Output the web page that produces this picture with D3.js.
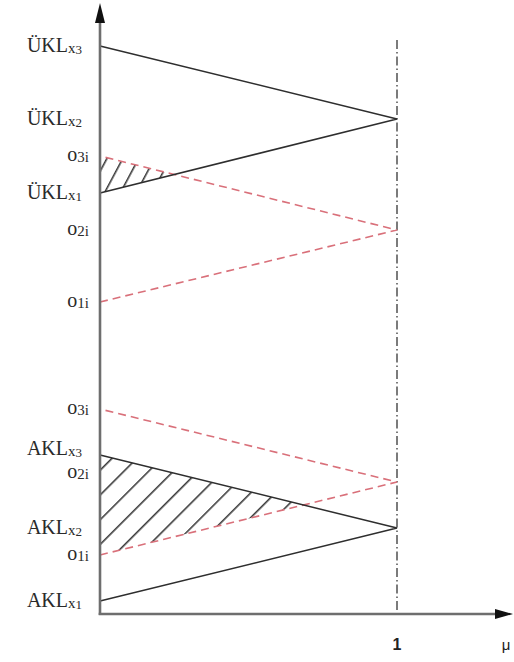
<!DOCTYPE html>
<html>
<head>
<meta charset="utf-8">
<script src="https://cdn.jsdelivr.net/npm/d3@7"></script>
<style>
  html, body { margin: 0; padding: 0; background: #fff; }
  svg { display: block; }
</style>
</head>
<body>
<svg id="chart" width="514" height="662"></svg>
<script>
// Triangular fuzzy numbers (x1, x2, x3) placed on the vertical value axis;
// x1 and x3 sit at membership 0, x2 at membership 1.
const uklValues   = [421, 495, 568];   // ÜKL
const oUpper      = [312, 384, 458];   // o_i compared with ÜKL
const aklValues   = [13, 86, 159];     // AKL
const oLower      = [59, 132, 205];    // o_i compared with AKL

const uklNames = ["ÜKL", "ÜKL", "ÜKL"];
const aklNames = ["AKL", "AKL", "AKL"];
const subIndex = ["1", "2", "3"];

const muTicks = [1];
const muLabel = "μ";

const svg = d3.select("#chart");

const x = d3.scaleLinear().domain([0, 1]).range([100, 397]);
const y = d3.scaleLinear().domain([0, 600]).range([614, 14]);

const axisColor = "#6e6e6e";
const lineColor = "#2e2e2e";
const redColor = "#d9707a";

// triangle as polyline: (0,x1) -> (1,x2) -> (0,x3)
const tri = v => [[0, v[0]], [1, v[1]], [0, v[2]]];
const line = d3.line().x(d => x(d[0])).y(d => y(d[1]));

// intersection of segment from (0,a0)-(1,a1) with (0,b0)-(1,b1)
function cross(a0, a1, b0, b1) {
  const t = (b0 - a0) / ((a1 - a0) - (b1 - b0));
  return [t, a0 + (a1 - a0) * t];
}

const defs = svg.append("defs");
function hatch(id, angle, gap) {
  const p = defs.append("pattern")
    .attr("id", id)
    .attr("patternUnits", "userSpaceOnUse")
    .attr("width", gap).attr("height", gap)
    .attr("patternTransform", `rotate(${angle})`);
  p.append("line")
    .attr("x1", 0.8).attr("y1", 0).attr("x2", 0.8).attr("y2", gap)
    .attr("stroke", lineColor).attr("stroke-width", 1.5);
}
hatch("hatchTop", 28, 14);
hatch("hatchBottom", 45, 17.5);

// hatched overlap: between o3 (upper) line and ÜKL x1 line
const topX = cross(oUpper[2], oUpper[1], uklValues[0], uklValues[1]);
svg.append("path")
  .attr("d", line([[0, oUpper[2]], topX, [0, uklValues[0]]]) + "Z")
  .attr("fill", "url(#hatchTop)");

// hatched overlap: between AKL x3 line and o1 (lower) line
const botX = cross(aklValues[2], aklValues[1], oLower[0], oLower[1]);
svg.append("path")
  .attr("d", line([[0, aklValues[2]], botX, [0, oLower[0]]]) + "Z")
  .attr("fill", "url(#hatchBottom)");

// membership = 1 guide
svg.append("line")
  .attr("x1", x(1)).attr("x2", x(1))
  .attr("y1", 40).attr("y2", y(0))
  .attr("stroke", "#444").attr("stroke-width", 1.4)
  .attr("stroke-dasharray", "9,3,1.5,3");

// red dashed o_i triangles
[oUpper, oLower].forEach(v => {
  svg.append("path")
    .attr("d", line(tri(v)))
    .attr("fill", "none")
    .attr("stroke", redColor)
    .attr("stroke-width", 1.6)
    .attr("stroke-dasharray", "8,5");
});

// black triangles
[uklValues, aklValues].forEach(v => {
  svg.append("path")
    .attr("d", line(tri(v)))
    .attr("fill", "none")
    .attr("stroke", lineColor)
    .attr("stroke-width", 1.5);
});

// axes
svg.append("line")
  .attr("x1", x(0)).attr("x2", x(0))
  .attr("y1", y(0) + 1).attr("y2", 20)
  .attr("stroke", axisColor).attr("stroke-width", 2.6);
svg.append("path")
  .attr("d", `M${x(0)},3 L${x(0) - 5},23 L${x(0) + 5},23 Z`)
  .attr("fill", "#111");
svg.append("line")
  .attr("x1", x(0) - 1.3).attr("x2", 498)
  .attr("y1", y(0)).attr("y2", y(0))
  .attr("stroke", axisColor).attr("stroke-width", 2.6);
svg.append("path")
  .attr("d", `M513,${y(0)} L495,${y(0) - 5} L495,${y(0) + 5} Z`)
  .attr("fill", "#111");

// x tick labels
svg.selectAll("text.mu")
  .data(muTicks)
  .join("text")
  .attr("class", "mu")
  .attr("x", d => x(d))
  .attr("y", 650)
  .attr("text-anchor", "middle")
  .attr("font-family", "Liberation Sans, Arial, sans-serif")
  .attr("font-weight", "bold")
  .attr("font-size", 16)
  .attr("fill", "#222")
  .text(d => d);
svg.append("text")
  .attr("x", 506).attr("y", 650)
  .attr("text-anchor", "middle")
  .attr("font-family", "Liberation Sans, Arial, sans-serif")
  .attr("font-size", 15)
  .attr("fill", "#222")
  .text(muLabel);

// y labels
const serif = "Liberation Serif, Times New Roman, serif";
function kLabel(name, idx, value, dy) {
  const t = svg.append("text")
    .attr("x", 82).attr("y", y(value) + 6 + (dy || 0))
    .attr("text-anchor", "end")
    .attr("font-family", serif)
    .attr("fill", "#2a2a2a");
  t.append("tspan").attr("font-size", 20).text(name);
  t.append("tspan").attr("font-size", 15).attr("dy", 1).text("x");
  t.append("tspan").attr("font-size", 13).attr("dy", 1).text(idx);
}
function oLabel(idx, value, dy) {
  const t = svg.append("text")
    .attr("x", 89).attr("y", y(value) + 5 + (dy || 0))
    .attr("text-anchor", "end")
    .attr("font-family", serif)
    .attr("fill", "#2a2a2a");
  t.append("tspan").attr("font-size", 20).text("o");
  t.append("tspan").attr("font-size", 15).attr("dy", 1).text(idx + "i");
}

uklValues.forEach((v, i) => kLabel(uklNames[i], subIndex[i], v));
aklValues.forEach((v, i) => kLabel(aklNames[i], subIndex[i], v, i === 2 ? -6 : 0));
oUpper.forEach((v, i) => oLabel(subIndex[i], v));
oLower.forEach((v, i) => oLabel(subIndex[i], v, i === 1 ? -9 : 0));
</script>
</body>
</html>
